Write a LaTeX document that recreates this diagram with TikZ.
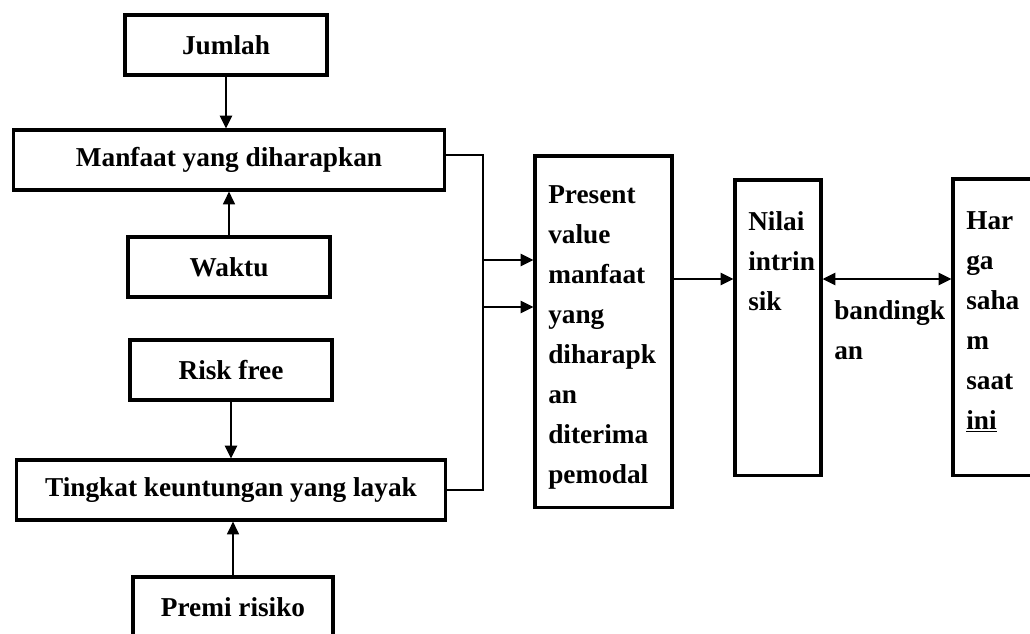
\documentclass[tikz,border=0pt]{standalone}
\usepackage{fontspec}
\setmainfont{Liberation Serif}
\usetikzlibrary{arrows.meta}
\tikzset{every picture/.style={line width=1.8pt}}
\tikzset{box/.style={draw,line width=2.2pt,inner sep=0pt,minimum height=1.5cm},
         txt/.style={anchor=north west,align=left,inner sep=0pt},
         thinline/.style={line width=1pt}}

\begin{document}
\begin{tikzpicture}[->,>={Triangle[length=0.32cm,width=0.3cm]},x=0.025cm,y=-0.025cm,font=\bfseries\fontsize{19.4}{28.45}\selectfont]
                      \useasboundingbox (0,0) rectangle (1030,633);
                      \clip (0,0) rectangle (1030,633);
                      \node[box,minimum width=5.05cm] (jml) at (226,45) {Jumlah};
                      \node[box,minimum width=10.75cm] (mft) at (229,160) {Manfaat yang diharapkan};
                      \node[box,minimum width=5.05cm] (wkt) at (229,267) {Waktu};
                      \node[box,minimum width=5.05cm] (rf) at (231,370) {Risk free};
                      \node[box,minimum width=10.7cm] (tkl) at (231,490) {Tingkat keuntungan yang layak};
                      \node[box,minimum width=5cm] (prm) at (233,607) {Premi risiko};
                      \node[box,minimum width=3.425cm,minimum height=8.775cm] (pv) at (603.5,331.5) {};
                      \node[box,minimum width=2.15cm,minimum height=7.375cm] (nil) at (778,327.5) {};
                      \node[box,minimum width=3cm,minimum height=7.4cm] (hrg) at (1013,327) {};
                      \node[txt] (pvtxt) at (547,184) {Present\\value\\manfaat\\yang\\diharapk\\an\\diterima\\pemodal};
                      \node[txt] (niltxt) at (747,210) {Nilai\\intrin\\sik};
                      \node[txt] (hrgtxt) at (965,210) {Har\\ga\\saha\\m\\saat\\\underline{ini}};
                      \node[txt] (cmp) at (833,299) {bandingk\\an};
                      \coordinate (jn) at (483,155);
                      \coordinate (in1) at (483,260);
                      \coordinate (in2) at (483,307);
                      \coordinate (lvl) at (0,279);
                      \draw (jml.south) -- (jml.south |- mft.north);
                      \draw[thinline] (wkt.north) -- (wkt.north |- mft.south);
                      \draw (rf.south) -- (rf.south |- tkl.north);
                      \draw[thinline] (prm.north) -- (prm.north |- tkl.south);
                      \draw[-] (mft.east |- jn) -- (jn) -- (jn |- tkl.east) -- (tkl.east);
                      \draw (in1) -- (in1 -| pv.west);
                      \draw (in2) -- (in2 -| pv.west);
                      \draw (pv.east |- lvl) -- (nil.west |- lvl);
                      \draw[<->] (nil.east |- lvl) -- (hrg.west |- lvl);
                  \end{tikzpicture}
\end{document}
